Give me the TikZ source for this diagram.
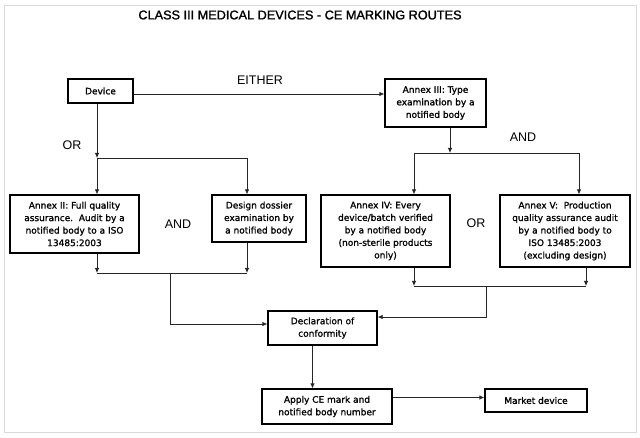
\documentclass[tikz,border=0pt]{standalone}
\usepackage{fontspec}
\usetikzlibrary{positioning}
\usetikzlibrary{arrows.meta}
\newfontfamily\boxfont[FakeBold=1.2]{DejaVu Sans}
\newfontfamily\labfont{Liberation Sans}
\newfontfamily\titlefont[FakeBold=1.5]{Liberation Sans}
\tikzset{
    box/.style = {rectangle, draw=black, line width=1.3pt, align=center, inner sep=0pt,
                  font=\boxfont\fontsize{9}{12.5}\selectfont},
    word/.style = {draw=none, font=\labfont\fontsize{12.5}{14}\selectfont},
    edgea/.style = {-{Latex[length=5pt,width=4.5pt]}, line width=0.8pt, black!85},
    edgel/.style = {line width=0.8pt, black!85}
}
\begin{document}
\begin{tikzpicture}[x=1pt,y=-1pt]
\path[use as bounding box] (0,0) rectangle (640,438);
\draw[gray!30, line width=0.6pt] (4,5) rectangle (636,432);
%
\node[word,font=\titlefont\fontsize{12.7}{14}\selectfont] at (300,15) (title) {CLASS III MEDICAL DEVICES - CE MARKING ROUTES};
%
\node[box,minimum width=65pt,minimum height=24pt] at (100.5,91) (device) {Device};
\node[box,minimum width=101pt,minimum height=48pt] at (435.5,103) (annexiii) {Annex III: Type\\examination by a\\notified body};
\node[box,minimum width=129pt,minimum height=58pt] at (74.5,224) (annexii) {Annex II: Full quality\\assurance.\ \ Audit by a\\notified body to a ISO\\13485:2003};
\node[box,minimum width=94pt,minimum height=47pt] at (259,218.5) (design) {Design dossier\\examination by\\a notified body};
\node[box,minimum width=129pt,minimum height=72pt] at (385.5,231) (annexiv) {Annex IV: Every\\device/batch verified\\by a notified body\\(non-sterile products\\only)};
\node[box,minimum width=130pt,minimum height=72pt] at (565,231) (annexv) {Annex V:\ \ Production\\quality assurance audit\\by a notified body to\\ISO 13485:2003\\(excluding design)};
\node[box,minimum width=109pt,minimum height=34pt] at (322.5,328) (decl) {Declaration of\\conformity};
\node[box,minimum width=130pt,minimum height=35pt] at (327,406.5) (apply) {Apply CE mark and\\notified body number};
\node[box,minimum width=102pt,minimum height=23pt] at (536,400.5) (market) {Market device};
%
\node[word] at (260,80) (either) {EITHER};
\node[word] at (72,145) (orl) {OR};
\node[word] at (178,224) (andl) {AND};
\node[word] at (523,137) (andr) {AND};
\node[word] at (476,223) (orr) {OR};
%
\coordinate (jl) at (97,158);
\coordinate (jl2) at (247,158);
\coordinate (bl) at (97,273);
\coordinate (br) at (247,273);
\coordinate (bm) at (170,273);
\coordinate (jrm) at (450,153);
\coordinate (jr1) at (414,153);
\coordinate (jr2) at (579,153);
\coordinate (bl2) at (414,286);
\coordinate (br2) at (586,286);
\coordinate (bm2) at (486,286);
%
\draw[edgea] ([yshift=-3pt]device.east) -- ([yshift=-3pt]device.east -| annexiii.west);
\draw[edgea] (jl |- device.south) -- (jl);
\draw[edgea] (jl) -- (jl |- annexii.north);
\draw[edgea] (jl) -- (jl2) -- (jl2 |- design.north);
\draw[edgea] (bl |- annexii.south) -- (bl);
\draw[edgea] (br |- design.south) -- (br);
\draw[edgel] (bl) -- (br);
\draw[edgea] (bm) |- ([yshift=4pt]decl.west);
%
\draw[edgea] (jrm |- annexiii.south) -- (jrm);
\draw[edgel] (jr1) -- (jr2);
\draw[edgea] (jr1) -- (jr1 |- annexiv.north);
\draw[edgea] (jr2) -- (jr2 |- annexv.north);
\draw[edgea] (bl2 |- annexiv.south) -- (bl2);
\draw[edgea] (br2 |- annexv.south) -- (br2);
\draw[edgel] (bl2) -- (br2);
\draw[edgea] (bm2) |- ([yshift=11pt]decl.east);
%
\draw[edgea] ([xshift=-10pt]decl.south) -- ([xshift=-10pt]decl.south |- apply.north);
\draw[edgea] ([yshift=9pt]apply.east) -- ([yshift=9pt]apply.east -| market.west);

\end{tikzpicture}
\end{document}
